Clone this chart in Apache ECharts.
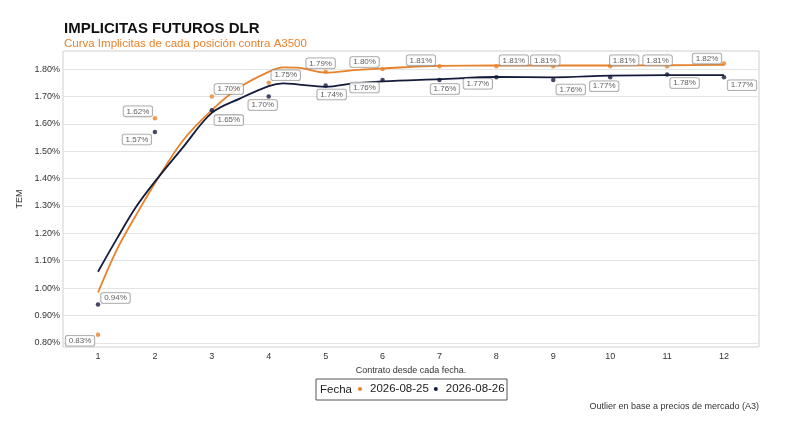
<!DOCTYPE html>
<html>
<head>
<meta charset="utf-8">
<script src="https://cdn.jsdelivr.net/npm/echarts@6/dist/echarts.min.js"></script>
<style>html,body{margin:0;padding:0;background:#fff}#c{width:800px;height:430px}</style>
</head>
<body>
<div id="c"></div>
<script>
// ---- data ----
const contracts = [1,2,3,4,5,6,7,8,9,10,11,12];
const seriesNames = ['2026-08-25','2026-08-26'];
const pts0825 = [0.83,1.62,1.70,1.75,1.79,1.80,1.81,1.81,1.81,1.81,1.81,1.82];
const pts0826 = [0.94,1.57,1.65,1.70,1.74,1.76,1.76,1.77,1.76,1.77,1.78,1.77];
// fitted curve
const curveX    = [1,1.33,1.67,2,2.5,3,3.5,4,4.25,4.5,5,5.5,6,7,8,9,10,11,12];
const curve0825 = [0.984,1.14,1.267,1.383,1.541,1.650,1.735,1.790,1.806,1.805,1.787,1.796,1.802,1.812,1.813,1.813,1.813,1.814,1.815];
const curve0826 = [1.060,1.18,1.297,1.389,1.516,1.640,1.693,1.738,1.748,1.744,1.735,1.748,1.755,1.763,1.771,1.770,1.776,1.778,1.778];
const yTicks = [0.8,0.9,1.0,1.1,1.2,1.3,1.4,1.5,1.6,1.7,1.8];
const xTicks = [1,2,3,4,5,6,7,8,9,10,11,12];

// ---- label layout (pixel offsets of label boxes) ----
const off0825 = [[-18,6],[-17,-7],[17,-7.5],[17,-7.5],[-5,-8.5],[-18,-7],[-18.5,-6],[17.5,-6],[-8,-6],[14,-6],[-9.5,-6],[-17,-5]];
const off0826 = [[17.5,-6.5],[-18,7.5],[17,10],[-6,8.5],[6,9],[-18,7.5],[5.5,9],[-18.5,6.5],[17.5,9.5],[-6,9],[17.5,8.5],[18,8]];

const COL_O = '#E8822A';
const COL_N = '#141B3C';
const FONT = "'Liberation Sans', Arial, sans-serif";

function ptsData(vals, offs){
  return contracts.map((x,i)=>({value:[x, vals[i]], label:{offset:offs[i]}}));
}
function curveData(vals){ return curveX.map((x,i)=>[x, vals[i]]); }

const labelStyle = {
  show:true, position:'inside',
  formatter: p => p.value[1].toFixed(2)+'%',
  fontSize:8, color:'#333', fontFamily:FONT,
  backgroundColor:'#fff', borderColor:'#8a8a8a', borderWidth:0.8, borderRadius:2,
  padding:[1,3,1,3]
};

const chart = echarts.init(document.getElementById('c'));
chart.setOption({
  animation:false,
  textStyle:{fontFamily:FONT},
  grid:{left:63,right:41,top:51,bottom:83,show:true,borderColor:'#cfcfcf',borderWidth:1,backgroundColor:'#fff'},
  xAxis:{
    type:'value', min:0.385, max:12.615,
    name:'Contrato desde cada fecha.', nameLocation:'middle', nameGap:19,
    nameTextStyle:{fontSize:9,color:'#333'},
    axisLine:{show:false},
    axisTick:{show:false, customValues:xTicks},
    axisLabel:{customValues:xTicks, fontSize:9, color:'#333', margin:5},
    splitLine:{show:false}
  },
  yAxis:{
    type:'value', min:0.785, max:1.866,
    name:'TEM', nameLocation:'middle', nameGap:32, nameRotate:90,
    nameTextStyle:{fontSize:9,color:'#333'},
    axisLine:{show:false},
    axisTick:{show:false, customValues:yTicks},
    axisLabel:{customValues:yTicks, formatter:v=>v.toFixed(2)+'%', fontSize:9, color:'#333', margin:3},
    splitLine:{show:true, lineStyle:{color:'#e4e4e4',width:1}}
  },
  legend:{
    data:seriesNames, left:358, top:383, padding:0,
    icon:'circle', itemWidth:10, itemHeight:4, itemGap:5,
    textStyle:{fontSize:11.5,color:'#222'}
  },
  series:[
    {name:seriesNames[0], type:'line', data:curveData(curve0825), smooth:0.35, showSymbol:false, color:COL_O, lineStyle:{width:1.8,color:COL_O}, z:2},
    {name:seriesNames[1], type:'line', data:curveData(curve0826), smooth:0.35, showSymbol:false, color:COL_N, lineStyle:{width:1.8,color:COL_N}, z:2},
    {name:seriesNames[0], type:'scatter', data:ptsData(pts0825, off0825), symbolSize:4.5, color:COL_O, itemStyle:{color:COL_O}, label:labelStyle, z:3},
    {name:seriesNames[1], type:'scatter', data:ptsData(pts0826, off0826), symbolSize:4.5, color:COL_N, itemStyle:{color:COL_N}, label:labelStyle, z:3}
  ],
  graphic:[
    {type:'text', left:64, top:21, style:{text:'IMPLICITAS FUTUROS DLR', font:"bold 15px 'Liberation Sans', Arial, sans-serif", fill:'#111'}},
    {type:'text', left:64, top:38, style:{text:'Curva Implicitas de cada posición contra A3500', font:"11.5px 'Liberation Sans', Arial, sans-serif", fill:COL_O}},
    {type:'rect', shape:{x:316,y:379,width:191,height:21}, style:{fill:'none',stroke:'#555',lineWidth:1}, z:-1},
    {type:'text', x:320, y:389.5, style:{text:'Fecha', font:"11.5px 'Liberation Sans', Arial, sans-serif", fill:'#222', verticalAlign:'middle'}},
    {type:'text', x:759, y:407, style:{text:'Outlier en base a precios de mercado (A3)', font:"9px 'Liberation Sans', Arial, sans-serif", fill:'#333', align:'right', verticalAlign:'middle'}}
  ]
});
</script>
</body>
</html>
